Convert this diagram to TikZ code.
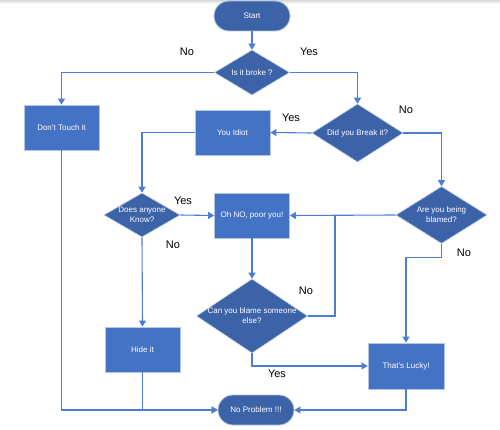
\documentclass[tikz,border=0pt]{standalone}
\usepackage{fontspec}
\setmainfont{Liberation Sans}
\usetikzlibrary{shapes.geometric,arrows.meta}
\definecolor{dkblue}{HTML}{3C63A8}
\definecolor{ltblue}{HTML}{4472C4}
\definecolor{edgeblue}{HTML}{4D7DD2}
\definecolor{bordc}{HTML}{B4C6E4}
\tikzset{
  box/.style={draw=bordc,line width=0.8pt,fill=ltblue,minimum width=75pt,minimum height=45pt,inner sep=0pt,
    text=white,font=\fontsize{8}{10}\selectfont,align=center},
  pill/.style={draw=bordc,line width=0.8pt,fill=dkblue,minimum width=76pt,minimum height=30pt,rounded corners=15pt,inner sep=0pt,
    text=white,font=\fontsize{8}{10}\selectfont},
  dia/.style={diamond,draw=bordc,line width=0.6pt,fill=dkblue,inner sep=0pt},
  dtext/.style={text=white,font=\fontsize{8}{10}\selectfont,align=center,inner sep=0pt},
  conn/.style={draw=edgeblue,line width=1.1pt},
  arr/.style={conn,-{Triangle[length=6pt,width=7pt]}},
  lab/.style={font=\fontsize{11}{13}\selectfont,text=black,inner sep=0pt}
}
\begin{document}
\begin{tikzpicture}[x=1pt,y=-1pt]
\useasboundingbox (0,0) rectangle (500,430);
\fill[white] (0,0) rectangle (500,430);
\shade[top color=black!15,bottom color=white] (0,0) rectangle (500,4);

\node[pill] (start) at (252,16) {Start};
\node[dia,minimum width=75pt,minimum height=45pt,label={[dtext]center:Is it broke ?}] (broke) at (252,72.5) {};
\node[box] (dont) at (61.5,127.5) {Don't Touch it};
\node[dia,minimum width=91pt,minimum height=58pt,label={[dtext]center:Did you Break it?}] (break) at (357.5,133) {};
\node[box] (idiot) at (232.5,132.5) {You Idiot};
\node[dia,minimum width=76pt,minimum height=44pt,label={[dtext]center:Does anyone\\Know?}] (know) at (142,215) {};
\node[box] (poor) at (252,215.5) {Oh NO, poor you!};
\node[dia,minimum width=91pt,minimum height=57pt,label={[dtext]center:Are you being\\blamed?}] (blamed) at (441.5,215) {};
\node[dia,minimum width=111pt,minimum height=74pt,label={[dtext]center:Can you blame someone\\else?}] (blame) at (252,316) {};
\node[box] (hide) at (142.5,349.5) {Hide it};
\node[box,minimum width=76pt,minimum height=46pt] (lucky) at (406,366) {That's Lucky!};
\node[pill] (noprob) at (256,410) {No Problem !!!};

\coordinate (j1) at (335,215);

\draw[arr] (start) -- (broke);
\draw[arr] (broke.west) -| (dont.north);
\draw[arr] (broke.east) -| (break.north);
\draw[arr] (break.west) -- (idiot.east);
\draw[arr] (idiot.west) -| (know.north);
\draw[arr] (break.east) -| (blamed.north);
\draw[arr] (know.east) -- (poor.west);
\draw[arr] (blamed.west) -- (poor.east);
\draw[arr] (poor.south) -- (blame.north);
\draw[conn] (blame.east) -| (j1);
\draw[arr] (blamed.south) -- ++(0,14) -| (lucky.north);
\draw[arr] (blame.south) |- (lucky.west);
\draw[arr] (know.south) -- (hide.north);
\draw[arr] (dont.south) |- (noprob.west);
\draw[arr] (hide.south) |- (noprob.west);
\draw[arr] (lucky.south) |- (noprob.east);

\node[lab] (l1) at (187,52) {No};
\node[lab] (l2) at (309,52) {Yes};
\node[lab] (l3) at (406,110) {No};
\node[lab] (l4) at (291,118) {Yes};
\node[lab] (l5) at (183,201) {Yes};
\node[lab] (l6) at (173,245) {No};
\node[lab] (l7) at (464,253) {No};
\node[lab] (l8) at (306,291) {No};
\node[lab] (l9) at (277,374) {Yes};
\end{tikzpicture}
\end{document}
